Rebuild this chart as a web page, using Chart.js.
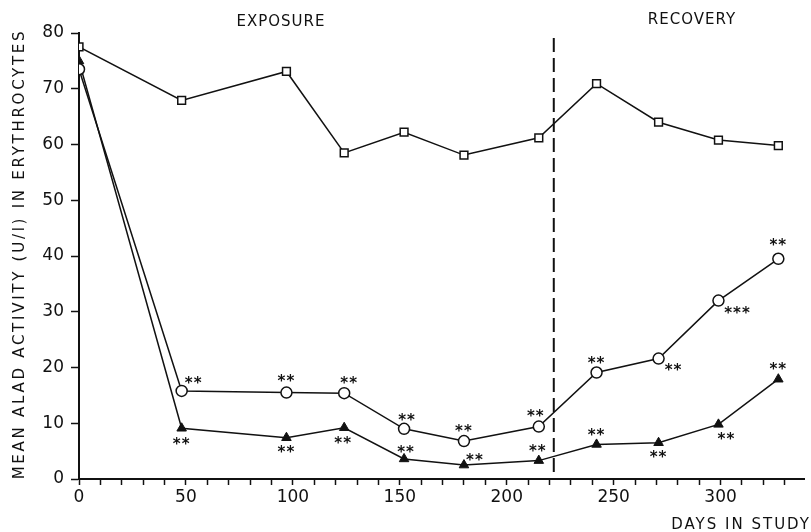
<!DOCTYPE html>
<html>
<head>
<meta charset="utf-8">
<script src="https://cdn.jsdelivr.net/npm/chart.js@4.4.1/dist/chart.umd.min.js"></script>
<style>
  html, body { margin: 0; padding: 0; background: #fff; overflow: hidden; }
  canvas { display: block; }
</style>
</head>
<body>
<canvas id="aladChart" width="811" height="532"></canvas>
<script>
// days in study
const days = [0, 48, 97, 124, 152, 180, 215, 242, 271, 299, 327];
// mean ALAD activity (U/l)
const controlSquares = [77.5, 67.9, 73.1, 58.5, 62.2, 58.1, 61.2, 70.9, 64.0, 60.8, 59.8];
const groupCircles   = [73.5, 15.8, 15.5, 15.4, 9.0, 6.8, 9.4, 19.1, 21.6, 32.0, 39.5];
const groupTriangles = [75.0, 9.1, 7.4, 9.2, 3.6, 2.5, 3.3, 6.2, 6.5, 9.8, 17.9];
// significance marks
const circleStars   = ['', '**', '**', '**', '**', '**', '**', '**', '**', '***', '**'];
const triangleStars = ['', '**', '**', '**', '**', '**', '**', '**', '**', '**', '**'];
const yTicks = [0, 10, 20, 30, 40, 50, 60, 70, 80];
const exposureEnd = 222;

const toXY = (vals) => vals.map((v, i) => ({ x: days[i], y: v }));

// offsets of star labels from their point (px)
const circleStarOffsets = [null, [12, -11], [0, -14], [5, -13], [3, -12], [0, -13], [-3, -13], [0, -12], [15, 9], [19, 10], [0, -17]];
const triStarOffsets = [null, [0, 13], [0, 11], [-1, 12], [2, -10], [11, -8], [-1, -12], [0, -12], [0, 11], [8, 12], [0, -13]];

const FONT = '"DejaVu Sans", sans-serif';

const overlay = {
  id: 'overlay',
  afterDatasetsDraw(chart) {
    const ctx = chart.ctx;
    const xs = chart.scales.x, ys = chart.scales.y;
    ctx.save();
    // dashed separator
    const xd = xs.getPixelForValue(exposureEnd);
    ctx.strokeStyle = '#111';
    ctx.lineWidth = 2;
    ctx.setLineDash([14, 6]);
    ctx.beginPath();
    ctx.moveTo(xd, 38);
    ctx.lineTo(xd, ys.bottom);
    ctx.stroke();
    ctx.setLineDash([]);

    // stars
    ctx.fillStyle = '#111';
    ctx.font = 'bold 15px ' + FONT;
    ctx.textAlign = 'center';
    ctx.textBaseline = 'middle';
    ctx.letterSpacing = '1px';
    const drawStars = (vals, marks, offs) => {
      vals.forEach((v, i) => {
        if (!marks[i]) return;
        const px = xs.getPixelForValue(days[i]);
        const py = ys.getPixelForValue(v);
        // asterisks sit high in the em box, shift down a bit
        ctx.fillText(marks[i], px + offs[i][0], py + offs[i][1] + 4);
      });
    };
    drawStars(groupCircles, circleStars, circleStarOffsets);
    drawStars(groupTriangles, triangleStars, triStarOffsets);

    // section headings
    ctx.font = '15px ' + FONT;
    ctx.letterSpacing = '1px';
    ctx.fillText('EXPOSURE', 281, 22);
    ctx.fillText('RECOVERY', 692, 20);

    // x title
    ctx.textAlign = 'right';
    ctx.letterSpacing = '2px';
    ctx.fillText('DAYS IN STUDY', 811, 525);

    // y title
    const yt = 'MEAN ALAD ACTIVITY (U/l) IN ERYTHROCYTES';
    ctx.font = '15px ' + FONT;
    ctx.letterSpacing = '0px';
    const base = ctx.measureText(yt).width;
    const spacing = (448 - base) / (yt.length - 1);
    ctx.letterSpacing = spacing.toFixed(2) + 'px';
    ctx.translate(20, 254);
    ctx.rotate(-Math.PI / 2);
    ctx.textAlign = 'center';
    ctx.fillText(yt, 0, 0);
    ctx.restore();
  }
};

const ctx = document.getElementById('aladChart').getContext('2d');
new Chart(ctx, {
  type: 'line',
  data: {
    datasets: [
      {
        label: 'Control',
        data: toXY(controlSquares),
        borderColor: '#111', borderWidth: 1.5,
        pointStyle: 'rect', pointRadius: 5.5,
        pointBackgroundColor: '#fff', pointBorderColor: '#111', pointBorderWidth: 1.5,
        tension: 0
      },
      {
        label: 'Circles',
        data: toXY(groupCircles),
        borderColor: '#111', borderWidth: 1.5,
        pointStyle: 'circle', pointRadius: 5.5,
        pointBackgroundColor: '#fff', pointBorderColor: '#111', pointBorderWidth: 1.5,
        tension: 0
      },
      {
        label: 'Triangles',
        data: toXY(groupTriangles),
        borderColor: '#111', borderWidth: 1.5,
        pointStyle: 'triangle', pointRadius: 5.5,
        pointBackgroundColor: '#111', pointBorderColor: '#111', pointBorderWidth: 1,
        tension: 0
      }
    ]
  },
  options: {
    responsive: false,
    animation: false,
    devicePixelRatio: 1,
    layout: { padding: { top: 33, right: 0, left: 0, bottom: 0 } },
    plugins: { legend: { display: false }, tooltip: { enabled: false } },
    scales: {
      x: {
        type: 'linear', min: 0, max: 339,
        afterBuildTicks: (s) => {
          const t = [];
          for (let v = 0; v <= 330; v += 10) t.push({ value: v });
          s.ticks = t;
        },
        afterFit: (s) => { s.height = 53; },
        ticks: {
          autoSkip: false, maxRotation: 0, padding: 2,
          color: '#111', font: { family: 'DejaVu Sans', size: 17 },
          callback: (v) => (v % 50 === 0 ? v : '')
        },
        grid: { drawOnChartArea: false, tickLength: 6, tickColor: '#111', tickWidth: 1.5 },
        border: { color: '#111', width: 2 }
      },
      y: {
        min: 0, max: 80,
        afterBuildTicks: (s) => { s.ticks = yTicks.map(v => ({ value: v })); },
        afterFit: (s) => { s.width = 79; },
        ticks: {
          padding: 7, color: '#111', font: { family: 'DejaVu Sans', size: 17 }
        },
        grid: { drawOnChartArea: false, tickLength: 8, tickColor: '#111', tickWidth: 1.5 },
        border: { color: '#111', width: 2 }
      }
    }
  },
  plugins: [overlay]
});
</script>
</body>
</html>
